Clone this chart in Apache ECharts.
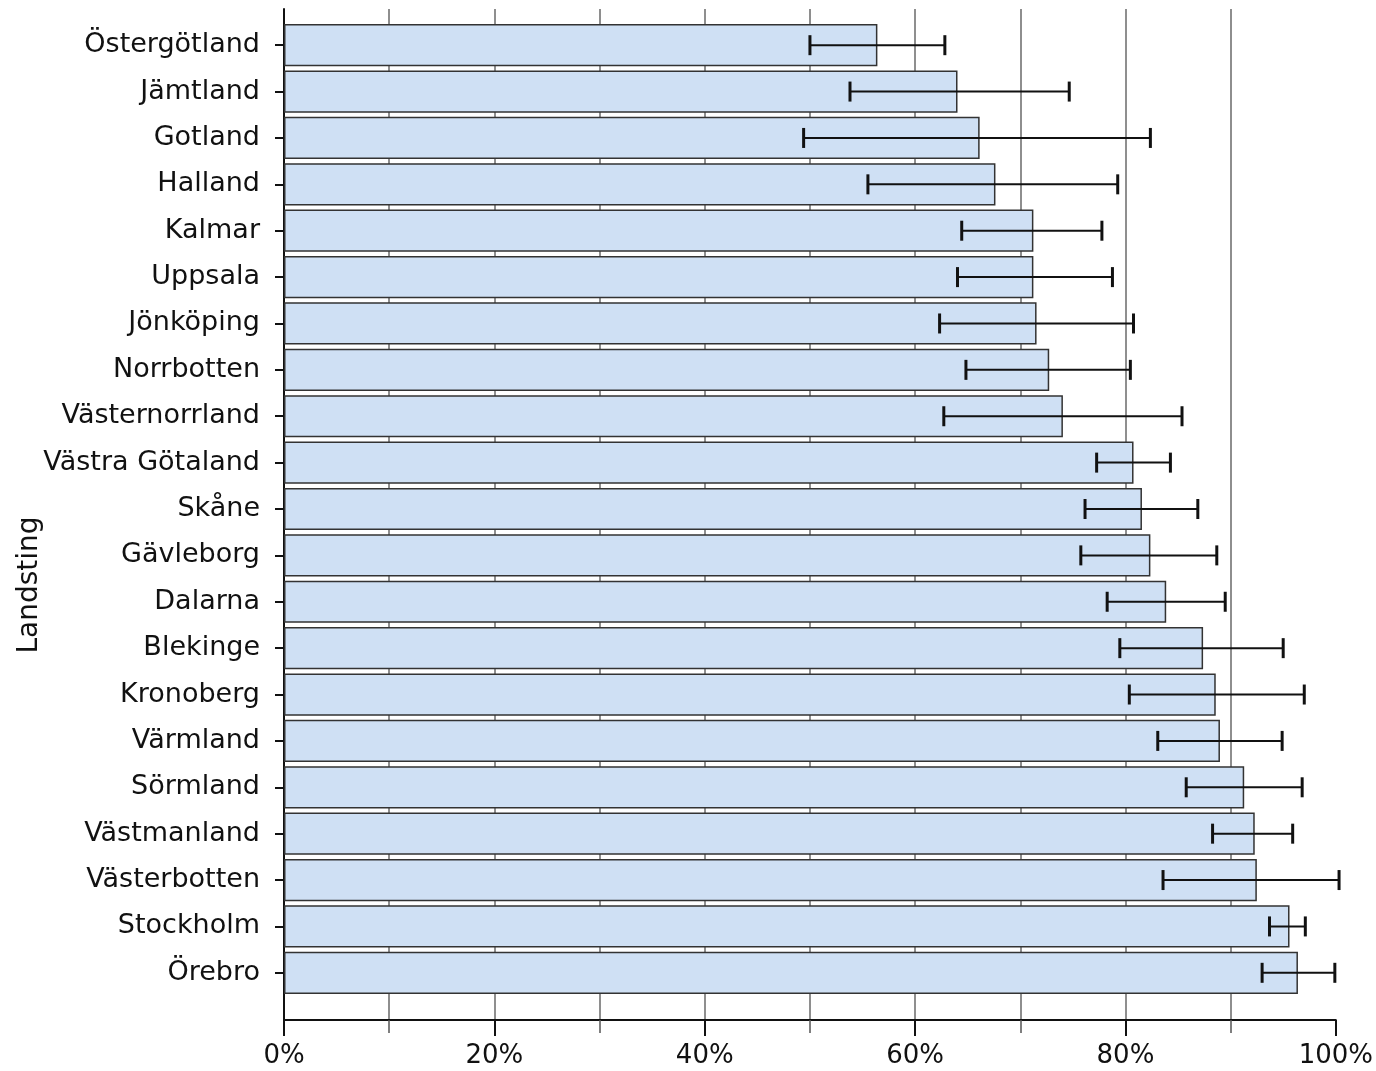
<!DOCTYPE html>
<html>
<head>
<meta charset="utf-8">
<script src="https://cdn.jsdelivr.net/npm/echarts@6/dist/echarts.min.js"></script>
<style>
html,body{margin:0;padding:0;background:#fff;}
#chart{width:1376px;height:1071px;}
</style>
</head>
<body>
<div id="chart"></div>
<script>
const categories = ['Östergötland','Jämtland','Gotland','Halland','Kalmar','Uppsala','Jönköping','Norrbotten','Västernorrland','Västra Götaland','Skåne','Gävleborg','Dalarna','Blekinge','Kronoberg','Värmland','Sörmland','Västmanland','Västerbotten','Stockholm','Örebro'];
const values = [56.3,63.9,66.0,67.5,71.1,71.1,71.4,72.6,73.9,80.6,81.4,82.2,83.7,87.2,88.4,88.8,91.1,92.1,92.3,95.4,96.2];
const lower  = [49.9,53.7,49.3,55.4,64.3,63.9,62.2,64.7,62.6,77.1,76.0,75.6,78.1,79.3,80.2,82.9,85.6,88.1,83.4,93.5,92.8];
const upper  = [62.7,74.5,82.2,79.1,77.6,78.6,80.6,80.3,85.2,84.1,86.7,88.5,89.3,94.8,96.8,94.7,96.6,95.7,100.1,96.9,99.7];
const xTickValues = [0,20,40,60,80,100];
const xTickLabels = ['0%','20%','40%','60%','80%','100%'];
const yAxisTitle = 'Landsting';

const FONT = '"DejaVu Sans", sans-serif';
const chart = echarts.init(document.getElementById('chart'), null, {renderer:'canvas'});

const errData = categories.map((c,i)=>[i, lower[i], upper[i]]);
const GRIDC = '#6a6a6a';

const option = {
  backgroundColor:'#fff',
  animation:false,
  grid:[
    {left:284, right:38, top:9, bottom:51},
    {left:284, right:38, top:22, bottom:75}
  ],
  xAxis:[
    {
      gridIndex:0, type:'value', min:0, max:100, interval:20,
      axisLine:{show:true, lineStyle:{color:'#111', width:2}},
      axisTick:{show:true, length:16, lineStyle:{color:'#111', width:2}},
      minorTick:{show:true, splitNumber:2, length:13, lineStyle:{color:'#555', width:1.5}},
      splitLine:{show:true, lineStyle:{color:[GRIDC,GRIDC,GRIDC,GRIDC,GRIDC,'rgba(0,0,0,0)'], width:1.5}},
      minorSplitLine:{show:true, lineStyle:{color:GRIDC, width:1.5}},
      axisLabel:{
        margin:23, fontSize:26, color:'#111', fontFamily:FONT,
        formatter:function(v){const k=xTickValues.indexOf(v);return k>=0?xTickLabels[k]:'';}
      }
    },
    {
      gridIndex:1, type:'value', min:0, max:100, show:false
    }
  ],
  yAxis:[
    {
      gridIndex:0, type:'value', min:0, max:1,
      axisLine:{show:true, lineStyle:{color:'#111', width:2}},
      axisTick:{show:false}, axisLabel:{show:false}, splitLine:{show:false}
    },
    {
      gridIndex:1, type:'category', data:categories, inverse:true,
      axisLine:{show:false},
      axisTick:{show:true, alignWithLabel:true, length:9, lineStyle:{color:'#111', width:2}},
      axisLabel:{margin:24, fontSize:27, color:'#111', fontFamily:FONT, padding:[5,0,0,0]},
      splitLine:{show:false}
    }
  ],
  graphic:[{
    type:'text', x:30, y:585, rotation:Math.PI/2,
    style:{text:yAxisTitle, fontSize:28, fontFamily:FONT, fill:'#111', align:'center', verticalAlign:'middle'}
  }],
  series:[
    {
      type:'bar', xAxisIndex:1, yAxisIndex:1, data:values,
      barCategoryGap:'9%',
      itemStyle:{color:'#cfe0f4', borderColor:'#333', borderWidth:1.5},
      z:2
    },
    {
      type:'custom', xAxisIndex:1, yAxisIndex:1, data:errData, z:3,
      encode:{x:[1,2], y:0},
      renderItem:function(params, api){
        const idx = api.value(0);
        const p1 = api.coord([api.value(1), idx]);
        const p2 = api.coord([api.value(2), idx]);
        const h = 10;
        const st = {stroke:'#111', lineWidth:2};
        return {type:'group', children:[
          {type:'line', shape:{x1:p1[0], y1:p1[1], x2:p2[0], y2:p2[1]}, style:st},
          {type:'line', shape:{x1:p1[0], y1:p1[1]-h, x2:p1[0], y2:p1[1]+h}, style:{stroke:'#111', lineWidth:3}},
          {type:'line', shape:{x1:p2[0], y1:p2[1]-h, x2:p2[0], y2:p2[1]+h}, style:{stroke:'#111', lineWidth:3}}
        ]};
      }
    }
  ]
};
chart.setOption(option);
</script>
</body>
</html>
